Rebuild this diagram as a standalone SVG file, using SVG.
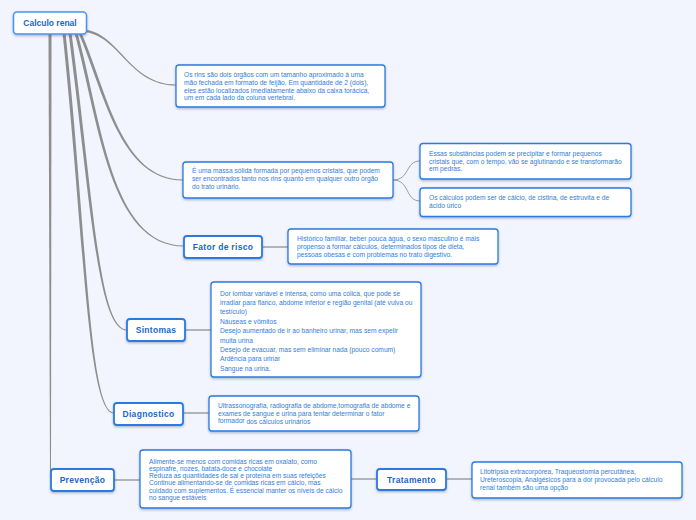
<svg xmlns="http://www.w3.org/2000/svg" width="696" height="520" viewBox="0 0 696 520">
<defs>
<filter id="sh" x="-10%" y="-20%" width="120%" height="150%">
<feDropShadow dx="0" dy="1.2" stdDeviation="0.8" flood-color="#1b3a66" flood-opacity="0.35"/>
</filter>
<style>
.box{fill:#ffffff;stroke:#2a7ae2;stroke-width:1.3;filter:url(#sh)}
.topic{fill:#ffffff;stroke:#2a7ae2;stroke-width:1.8;filter:url(#sh)}
.root{fill:#ffffff;stroke:#4b94ea;stroke-width:1.5;filter:url(#sh)}
.t{font-family:"Liberation Sans",Arial,sans-serif;font-size:6.65px;fill:#2f7edb}
.h{font-family:"Liberation Sans",Arial,sans-serif;font-size:8.5px;font-weight:bold;fill:#1a66c9;text-anchor:middle;letter-spacing:0.3px}
.c{fill:#8e8e8e;stroke:none}
.l{fill:none;stroke:#999999;stroke-width:1.4}
.l1{fill:none;stroke:#999999;stroke-width:1}
</style>
</defs>
<rect width="696" height="520" fill="#f2f5fe"/>

<g id="connectors">
<path class="c" d="M86,29.8 C120,34.8 130,84.5 176,84.5 L176,85.5 C130,85.5 120,37.2 86,32.2 Z"/>
<path class="c" d="M81.5,33 C106.5,90 121,179.5 183,179.5 L183,180.5 C119,180.5 103.5,90 78.5,33 Z"/>
<path class="c" d="M77.5,33 C101.5,120 111,245.5 184,245.5 L184,246.5 C109,246.5 98.5,120 74.5,33 Z"/>
<path class="c" d="M71.5,33 C93.5,200 99,329.5 127,329.5 L127,330.5 C97,330.5 90.5,200 68.5,33 Z"/>
<path class="c" d="M65.5,33 C86.5,230 89,412.5 114,412.5 L114,413.5 C87,413.5 83.5,230 62.5,33 Z"/>
<path class="c" d="M48.5,33 L51.5,33 L51,478 L50,478 Z"/>
<path class="l1" d="M393,180 C410,180 405,161 420,161"/>
<path class="l1" d="M393,180 C410,180 405,201 420,201"/>
<path class="l" d="M262,247 L288,247"/>
<path class="l" d="M185,330 L211,330"/>
<path class="l" d="M183,413 L209,413"/>
<path class="l" d="M114,480 L140,480"/>
<path class="l" d="M351,479 L377,479"/>
<path class="l" d="M446,479 L472,479"/>
</g>

<g id="root">
<rect class="root" x="13.5" y="12" width="73" height="22" rx="3.5"/>
<text class="h" x="50" y="26" style="letter-spacing:0">Calculo renal</text>
</g>

<g id="n-rins">
<rect class="box" x="176" y="65" width="209" height="42" rx="3"/>
<text class="t" x="184" y="77">Os rins são dois órgãos com um tamanho aproximado à uma</text>
<text class="t" x="184" y="85">mão fechada em formato de feijão. Em quantidade de 2 (dois),</text>
<text class="t" x="184" y="92.5">eles estão localizados imediatamente abaixo da caixa torácica,</text>
<text class="t" x="184" y="100">um em cada lado da coluna vertebral.</text>
</g>

<g id="n-massa">
<rect class="box" x="183" y="162" width="210" height="36" rx="3"/>
<text class="t" x="192" y="173">É uma massa sólida formada por pequenos cristais, que podem</text>
<text class="t" x="192" y="181">ser encontrados tanto nos rins quanto em qualquer outro órgão</text>
<text class="t" x="192" y="189">do trato urinário.</text>
</g>

<g id="n-subst">
<rect class="box" x="420" y="143.5" width="211" height="35.5" rx="3"/>
<text class="t" x="429" y="156">Essas substâncias podem se precipitar e formar pequenos</text>
<text class="t" x="429" y="163.5">cristais que, com o tempo, vão se aglutinando e se transformarão</text>
<text class="t" x="429" y="171">em pedras.</text>
</g>

<g id="n-tipos">
<rect class="box" x="420" y="188" width="211" height="28.5" rx="3"/>
<text class="t" x="429" y="199.5">Os cálculos podem ser de cálcio, de cistina, de estruvita e de</text>
<text class="t" x="429" y="208">ácido úrico</text>
</g>

<g id="n-fator">
<rect class="topic" x="184" y="236" width="78" height="22" rx="3"/>
<text class="h" x="223" y="250">Fator de risco</text>
</g>

<g id="n-fator-txt">
<rect class="box" x="288" y="229" width="210" height="35" rx="3"/>
<text class="t" x="297" y="241">Histórico familiar, beber pouca água, o sexo masculino é mais</text>
<text class="t" x="297" y="249">propenso a formar cálculos, determinados tipos de dieta,</text>
<text class="t" x="297" y="256.5">pessoas obesas e com problemas no trato digestivo.</text>
</g>

<g id="n-sintomas">
<rect class="topic" x="127" y="319" width="58" height="22" rx="3"/>
<text class="h" x="156" y="333">Sintomas</text>
</g>

<g id="n-sintomas-txt">
<rect class="box" x="211" y="282" width="210" height="95" rx="3"/>
<text class="t" x="220" y="295.5">Dor lombar variável e intensa, como uma cólica, que pode se</text>
<text class="t" x="220" y="304.5">irradiar para flanco, abdome inferior e região genital (até vulva ou</text>
<text class="t" x="220" y="314">testículo)</text>
<text class="t" x="220" y="323.5">Náuseas e vômitos</text>
<text class="t" x="220" y="333">Desejo aumentado de ir ao banheiro urinar, mas sem expelir</text>
<text class="t" x="220" y="342.5">muita urina</text>
<text class="t" x="220" y="351.5">Desejo de evacuar, mas sem eliminar nada (pouco comum)</text>
<text class="t" x="220" y="361">Ardência para urinar</text>
<text class="t" x="220" y="370.5">Sangue na urina.</text>
</g>

<g id="n-diag">
<rect class="topic" x="114" y="403" width="69" height="22" rx="3"/>
<text class="h" x="148.5" y="417">Diagnostico</text>
</g>

<g id="n-diag-txt">
<rect class="box" x="209" y="396" width="210" height="35" rx="3"/>
<text class="t" x="218" y="408">Ultrassonografia, radiografia de abdome,tomografia de abdome e</text>
<text class="t" x="218" y="415.5">exames de sangue e urina para tentar determinar o fator</text>
<text class="t" x="218" y="422.5">formador <tspan dy="1.5">dos cálculos urinários</tspan></text>
</g>

<g id="n-prev">
<rect class="topic" x="51" y="469" width="63" height="22" rx="3"/>
<text class="h" x="82.5" y="483">Prevenção</text>
</g>

<g id="n-prev-txt">
<rect class="box" x="140" y="450" width="211" height="58" rx="3"/>
<text class="t" x="149" y="463.5">Alimente-se menos com comidas ricas em oxalato, como</text>
<text class="t" x="149" y="470.5">espinafre, nozes, batata-doce e chocolate</text>
<text class="t" x="149" y="478">Reduza as quantidades de sal e proteína em suas refeições</text>
<text class="t" x="149" y="485">Continue alimentando-se de comidas ricas em cálcio, mas</text>
<text class="t" x="149" y="492.5">cuidado com suplementos. É essencial manter os níveis de cálcio</text>
<text class="t" x="149" y="500">no sangue estáveis</text>
</g>

<g id="n-trat">
<rect class="topic" x="377" y="469" width="69" height="21" rx="3"/>
<text class="h" x="411.5" y="482.5">Tratamento</text>
</g>

<g id="n-trat-txt">
<rect class="box" x="472" y="462" width="210" height="36" rx="3"/>
<text class="t" x="480" y="473.5">Litotripsia extracorpórea, Traqueostomia percutânea,</text>
<text class="t" x="480" y="481.5">Ureteroscopia, Analgésicos para a dor provocada pelo cálculo</text>
<text class="t" x="480" y="490">renal também são uma opção</text>
</g>
</svg>
